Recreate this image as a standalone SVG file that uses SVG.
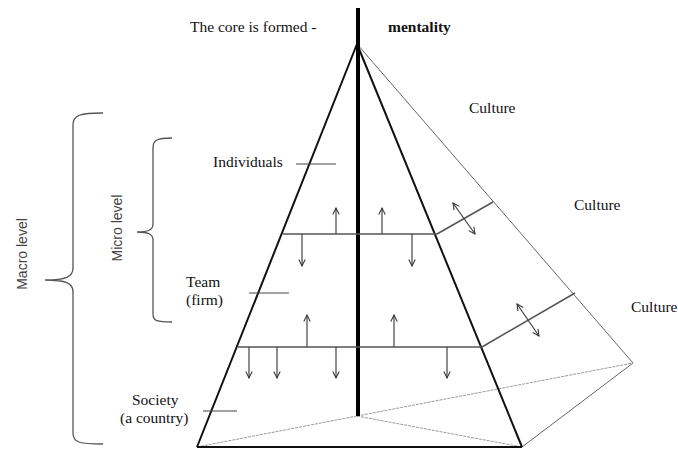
<svg xmlns="http://www.w3.org/2000/svg" width="678" height="449" viewBox="0 0 678 449">
<style>
.serif{font-family:"Liberation Serif","Times New Roman",Times,serif;font-size:15.5px;fill:#111}
.sans{font-family:"Liberation Sans",Arial,sans-serif;font-size:14px;fill:#444}
.edge{stroke:#111;stroke-width:2;fill:none}
.back{stroke:#666;stroke-width:1;fill:none}
.dash{stroke:#999;stroke-width:1;fill:none;stroke-dasharray:3 1}
.level{stroke:#555;stroke-width:1.5;fill:none}
.arr{stroke:#444;stroke-width:1.2;fill:none;marker-end:url(#ah)}
.darr{stroke:#444;stroke-width:1.2;fill:none;marker-end:url(#ah);marker-start:url(#ahs)}
.tick{stroke:#444;stroke-width:1.2;fill:none}
.brace{stroke:#555;stroke-width:1.3;fill:none}
</style>
<defs>
<marker id="ah" viewBox="0 0 10 10" refX="9" refY="5" markerWidth="8" markerHeight="8" markerUnits="userSpaceOnUse" orient="auto">
<path d="M1,1 L9,5 L1,9" fill="none" stroke="#333" stroke-width="1.3"/>
</marker>
<marker id="ahs" viewBox="0 0 10 10" refX="1" refY="5" markerWidth="8" markerHeight="8" markerUnits="userSpaceOnUse" orient="auto">
<path d="M9,1 L1,5 L9,9" fill="none" stroke="#333" stroke-width="1.3"/>
</marker>
</defs>

<g id="pyramid">
<line class="back" x1="357" y1="44" x2="633" y2="363"/>
<line class="back" x1="522" y1="447" x2="633" y2="363"/>
<line class="dash" x1="357" y1="416" x2="633" y2="363"/>
<line class="dash" x1="197" y1="447" x2="357" y2="416"/>
<line class="dash" x1="357" y1="416" x2="522" y2="447"/>
<line class="edge" x1="197" y1="447" x2="522" y2="447"/>
<line class="edge" x1="357" y1="44" x2="197" y2="447"/>
<line class="edge" x1="357" y1="44" x2="522" y2="447"/>
<line x1="358" y1="8" x2="358" y2="416" stroke="#000" stroke-width="4"/>
</g>

<g id="levels">
<line class="level" x1="283" y1="234" x2="437" y2="234"/>
<line class="level" x1="437" y1="234" x2="493" y2="202"/>
<line class="level" x1="238" y1="347" x2="482" y2="347"/>
<line class="level" x1="482" y1="347" x2="575" y2="293"/>
</g>

<g id="connectors">
<line class="arr" x1="336" y1="234" x2="336" y2="208"/>
<line class="arr" x1="382" y1="234" x2="382" y2="208"/>
<line class="arr" x1="302" y1="234" x2="302" y2="266"/>
<line class="arr" x1="412" y1="234" x2="412" y2="266"/>
<line class="arr" x1="307" y1="347" x2="307" y2="315"/>
<line class="arr" x1="394" y1="347" x2="394" y2="315"/>
<line class="arr" x1="249" y1="347" x2="249" y2="378"/>
<line class="arr" x1="277" y1="347" x2="277" y2="378"/>
<line class="arr" x1="336" y1="347" x2="336" y2="378"/>
<line class="arr" x1="447" y1="347" x2="447" y2="378"/>
<line class="darr" x1="453" y1="203" x2="475" y2="234"/>
<line class="darr" x1="517" y1="304" x2="539" y2="336"/>
<line class="tick" x1="296" y1="164" x2="336" y2="164"/>
<line class="tick" x1="249" y1="293" x2="289" y2="293"/>
<line class="tick" x1="203" y1="411" x2="237" y2="411"/>
</g>

<g id="macro-brace">
<path class="brace" d="M103,113 C80,113 73,115 73,125 L73,268 C73,277 66,280 45,280 C66,280 73,283 73,292 L73,433 C73,443 80,444 103,444"/>
<text class="sans" transform="translate(27,254) rotate(-90)" text-anchor="middle">Macro level</text>
</g>

<g id="micro-brace">
<path class="brace" d="M172,138 C157,138 153,140 153,148 L153,224 C153,230 148,232 137,232 C148,232 153,234 153,240 L153,314 C153,321 157,322 172,322"/>
<text class="sans" transform="translate(122,228) rotate(-90)" text-anchor="middle">Micro level</text>
</g>

<g id="labels">
<text class="serif" x="190" y="32">The core is formed -</text>
<text class="serif" x="388" y="32" font-weight="bold">mentality</text>
<text class="serif" x="213" y="167">Individuals</text>
<text class="serif" x="186" y="287">Team</text>
<text class="serif" x="186" y="305">(firm)</text>
<text class="serif" x="132" y="405">Society</text>
<text class="serif" x="120" y="423">(a country)</text>
<text class="serif" x="469" y="113">Culture</text>
<text class="serif" x="574" y="210">Culture</text>
<text class="serif" x="631" y="312">Culture</text>
</g>
</svg>
